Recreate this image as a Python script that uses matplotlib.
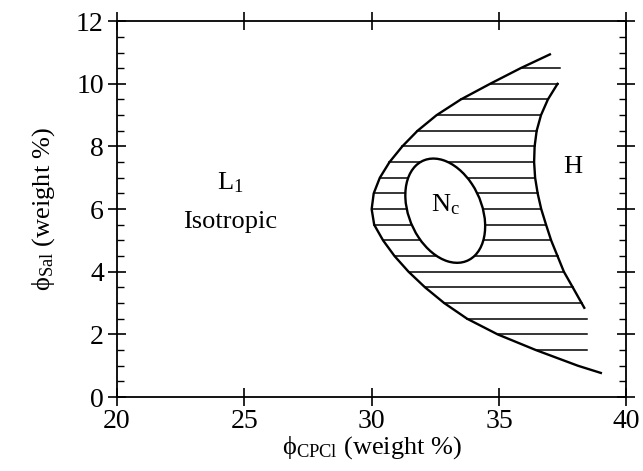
import numpy as np
import matplotlib.pyplot as plt
from matplotlib.patches import Ellipse

plt.rcParams['font.family'] = ['Liberation Serif', 'DejaVu Serif']
plt.rcParams['mathtext.fontset'] = 'custom'
plt.rcParams['mathtext.rm'] = 'Liberation Serif'
plt.rcParams['mathtext.it'] = 'Liberation Serif:italic'

# outer boundary of the two-phase region, top end to bottom end
outer_x = [37.0, 35.85, 34.65, 33.5, 32.55, 31.8, 31.2, 30.7, 30.32, 30.08, 30.0,
           30.1, 30.45, 30.9, 31.45, 32.1, 32.85, 33.75, 34.95, 36.45, 38.1, 39.0]
outer_y = [10.94, 10.5, 10.0, 9.5, 9.0, 8.5, 8.0, 7.5, 7.0, 6.5, 6.0,
           5.5, 5.0, 4.5, 4.0, 3.5, 3.0, 2.5, 2.0, 1.5, 1.0, 0.77]

# boundary of the hexagonal phase H, top to bottom
h_x = [37.3, 36.92, 36.65, 36.48, 36.4, 36.38, 36.42, 36.52, 36.66, 36.85,
       37.05, 37.3, 37.55, 37.9, 38.35]
h_y = [10.0, 9.5, 9.0, 8.5, 8.0, 7.5, 7.0, 6.5, 6.0, 5.5,
       5.0, 4.5, 4.0, 3.5, 2.85]

# tie lines drawn across the coexistence region
tie_y = [1.5, 2.0, 2.5, 3.0, 3.5, 4.0, 4.5, 5.0, 5.5, 6.0,
         6.5, 7.0, 7.5, 8.0, 8.5, 9.0, 9.5, 10.0, 10.5]
tie_end_low = 38.45   # free ends below the H region
tie_end_high = 37.4   # free ends above the H region

# nematic N_c island
nc_center = (32.89, 5.95)
nc_width = 3.69
nc_height = 2.70
nc_angle = 129.3

fig = plt.figure(figsize=(6.43, 4.71), dpi=100)
ax = fig.add_axes([0.182, 0.157, 0.792, 0.798])

ox = np.array(outer_x)
oy = np.array(outer_y)
iv = int(np.argmin(ox))
# upper and lower branches of the outer curve, y increasing
up_y, up_x = oy[:iv + 1][::-1], ox[:iv + 1][::-1]
lo_y, lo_x = oy[iv:][::-1], ox[iv:][::-1]

hy = np.array(h_y)[::-1]
hx = np.array(h_x)[::-1]

for y in tie_y:
    if y >= oy[iv]:
        x0 = np.interp(y, up_y, up_x)
    else:
        x0 = np.interp(y, lo_y, lo_x)
    x1 = np.interp(y, hy, hx, left=tie_end_low, right=tie_end_high)
    ax.plot([x0, x1], [y, y], color='black', lw=1.1, zorder=2)

ax.plot(outer_x, outer_y, color='black', lw=1.7, zorder=3,
        solid_joinstyle='round')
ax.plot(h_x, h_y, color='black', lw=1.7, zorder=3, solid_joinstyle='round')

nc = Ellipse(nc_center, nc_width, nc_height, angle=nc_angle,
             facecolor='white', edgecolor='black', lw=1.7, zorder=4)
ax.add_patch(nc)

ax.text(24.45, 6.85, 'L$_{\\mathrm{1}}$', fontsize=19, ha='center', va='center')
ax.text(24.45, 5.6, 'Isotropic', fontsize=19, ha='center', va='center')
ax.text(32.9, 6.15, 'N$_{\\mathrm{c}}$', fontsize=19, ha='center', va='center', zorder=5)
ax.text(37.9, 7.36, 'H', fontsize=19, ha='center', va='center')

ax.set_xlim(20, 40)
ax.set_ylim(0, 12)
ax.set_xticks([20, 25, 30, 35, 40])
ax.set_yticks([0, 2, 4, 6, 8, 10, 12])
ax.set_yticks(np.arange(0, 12.01, 0.5), minor=True)

ax.tick_params(which='major', direction='inout', length=13, width=1.2,
               top=True, right=True, labelsize=20, pad=2)
ax.tick_params(axis='y', which='major', pad=3)
ax.tick_params(axis='y', which='minor', direction='in', length=5, width=1.0,
               left=True, right=True)
ax.tick_params(axis='x', which='minor', bottom=False, top=False)
for s in ax.spines.values():
    s.set_linewidth(1.3)

ax.set_xlabel('ϕ$_{\\mathrm{CPCl}}$ (weight %)', fontsize=19, labelpad=0)
ax.set_ylabel('ϕ$_{\\mathrm{Sal}}$ (weight %)', fontsize=19, labelpad=14)

fig.savefig('out.png', dpi=100)
